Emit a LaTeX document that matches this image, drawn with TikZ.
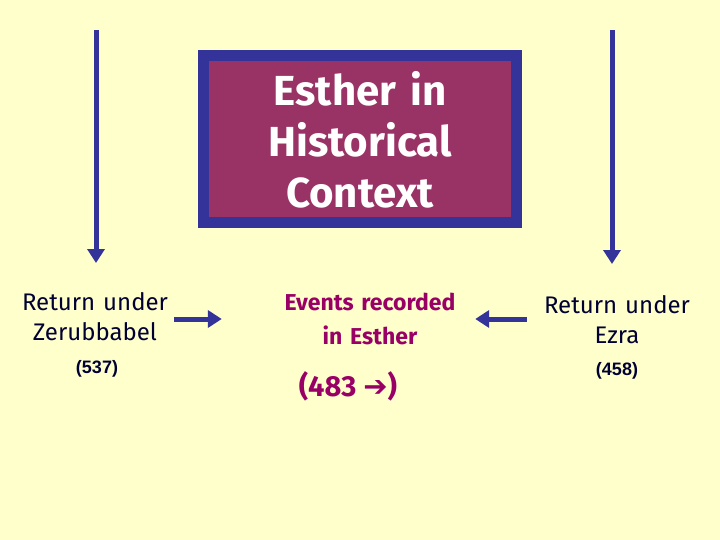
\documentclass[tikz,border=0pt]{standalone}
\usepackage{fontspec}
\setmainfont{Fira Sans}
\newfontfamily\numfont{Liberation Sans}
\newfontfamily\symfont{DejaVu Sans}
\usetikzlibrary{arrows.meta}
\definecolor{paper}{HTML}{FFFFCC}
\definecolor{navyblue}{HTML}{333399}
\definecolor{plum}{HTML}{993366}
\definecolor{wine}{HTML}{990066}
\definecolor{ink}{HTML}{000033}
\tikzset{basic/.style={align=center,inner sep=2pt}}
\tikzset{place/.style={basic,text=ink,font=\fontsize{24}{30}\selectfont,text width=160}}
\tikzset{year/.style={basic,text=ink,font=\numfont\bfseries\fontsize{18}{20}\selectfont}}
\tikzset{events/.style={basic,text=wine,font=\bfseries\fontsize{23}{34}\selectfont,text width=190}}
\tikzset{heading/.style={basic,text=white,font=\bfseries\fontsize{42}{51}\selectfont,text width=300}}
\tikzset{bigarrow/.style={navyblue,line width=5,-{Triangle[length=14,width=17]}}}
\tikzset{titlebox/.style={draw=navyblue,line width=11,fill=plum,minimum width=313,minimum height=167}}

\begin{document}
\begin{tikzpicture}[x=1pt,y=-1pt]
    \fill[paper] (0,0) rectangle (720,540);
    \useasboundingbox (0,0) rectangle (720,540);

    % title
    \node[titlebox] (title) at (360,139) {};
    \node[heading] (head) at (360,140) {Esther in\\Historical\\Context};

    % returns
    \node[place] (zer) at (95,317) {Return under\\Zerubbabel};
    \node[year] (y537) at (97,369) {(537)};
    \node[place] (ezra) at (617,320) {Return under\\Ezra};
    \node[year] (y458) at (617,371) {(458)};

    % events
    \node[events] (evt) at (370,319) {Events recorded\\in Esther};
    \node[events,text width=,font=\bfseries\fontsize{29}{30}\selectfont] (y483) at (348,386) {(483 {\symfont\bfseries\char"2794})};

    % arrows
    \coordinate (ltop) at (96,30);
    \coordinate (lbot) at (96,263);
    \coordinate (rtop) at (612,30);
    \coordinate (rbot) at (612,264);
    \draw[bigarrow] (ltop) -- (lbot);
    \draw[bigarrow] (rtop) -- (rbot);
    \draw[bigarrow] ([xshift=-3]zer.east|-evt) -- ([xshift=-51]evt.west);
    \draw[bigarrow] ([xshift=-8]ezra.west|-evt) -- ([xshift=8]evt.east);
\end{tikzpicture}
\end{document}
